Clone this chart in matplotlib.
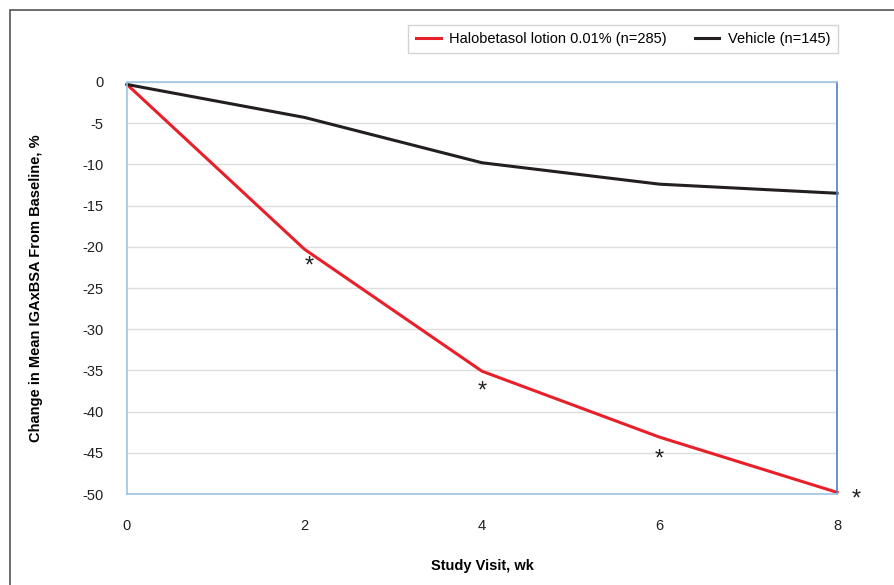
import matplotlib.pyplot as plt
from matplotlib.patches import Rectangle

weeks = [0, 2, 4, 6, 8]
halobetasol = [-0.3, -20.3, -35.1, -43.1, -49.8]
vehicle = [-0.3, -4.3, -9.8, -12.4, -13.5]

# asterisk positions (significance marks)
star_x = [2.05, 4.0, 6.0, 8.22]
star_y = [-21.9, -37.1, -45.3, -50.2]

plt.rcParams['font.family'] = ['Liberation Sans', 'DejaVu Sans']
plt.rcParams['axes.unicode_minus'] = False

fig = plt.figure(figsize=(8.95, 5.85), dpi=100)
ax = fig.add_axes([127 / 895, 1 - 494 / 585, (837 - 127) / 895, (494 - 82) / 585])

# outer frame
fig.patches.append(Rectangle((10 / 895, -0.05), 1.0, 1 - 10 / 585 + 0.05,
                             transform=fig.transFigure, fill=False,
                             edgecolor='#555555', linewidth=1.2))

ax.plot(weeks, halobetasol, color='#e8202a', linewidth=2.2,
        label='Halobetasol lotion 0.01% (n=285)', clip_on=False)
ax.plot(weeks, vehicle, color='#231f20', linewidth=2.2,
        label='Vehicle (n=145)', clip_on=False)

for sx, sy in zip(star_x, star_y):
    ax.text(sx, sy - 0.5, '*', fontsize=17, ha='center', va='center',
            color='#231f20', clip_on=False)

ax.set_xlim(0, 8)
ax.set_ylim(-50, 0)
ax.set_xticks(weeks)
ax.set_yticks(range(-50, 1, 5))
ax.tick_params(length=0, labelsize=10.5, colors='#231f20')
ax.tick_params(axis='y', pad=17)
ax.tick_params(axis='x', pad=18)
ax.yaxis.grid(True, color='#dddddd', linewidth=1)
ax.set_axisbelow(True)

for side in ['left', 'bottom', 'top']:
    ax.spines[side].set_color('#9dc3e6')
    ax.spines[side].set_linewidth(1.2)
ax.spines['right'].set_color('#4f81bd')
ax.spines['right'].set_linewidth(1.2)

ax.set_xlabel('Study Visit, wk', fontsize=10.5, fontweight='bold', labelpad=19)
ax.set_ylabel('Change in Mean IGAxBSA From Baseline, %', fontsize=10.5,
              fontweight='bold', labelpad=28)

leg = ax.legend(loc='lower right', bbox_to_anchor=(1.0014, 1.07), ncol=2,
                frameon=True, fancybox=False, fontsize=10.5, handlelength=1.7,
                handletextpad=0.6, columnspacing=1.9, borderpad=0.5,
                borderaxespad=0)
leg.get_frame().set_edgecolor('#c8c8c8')
leg.get_frame().set_linewidth(1)

fig.savefig('out.png', dpi=100)
